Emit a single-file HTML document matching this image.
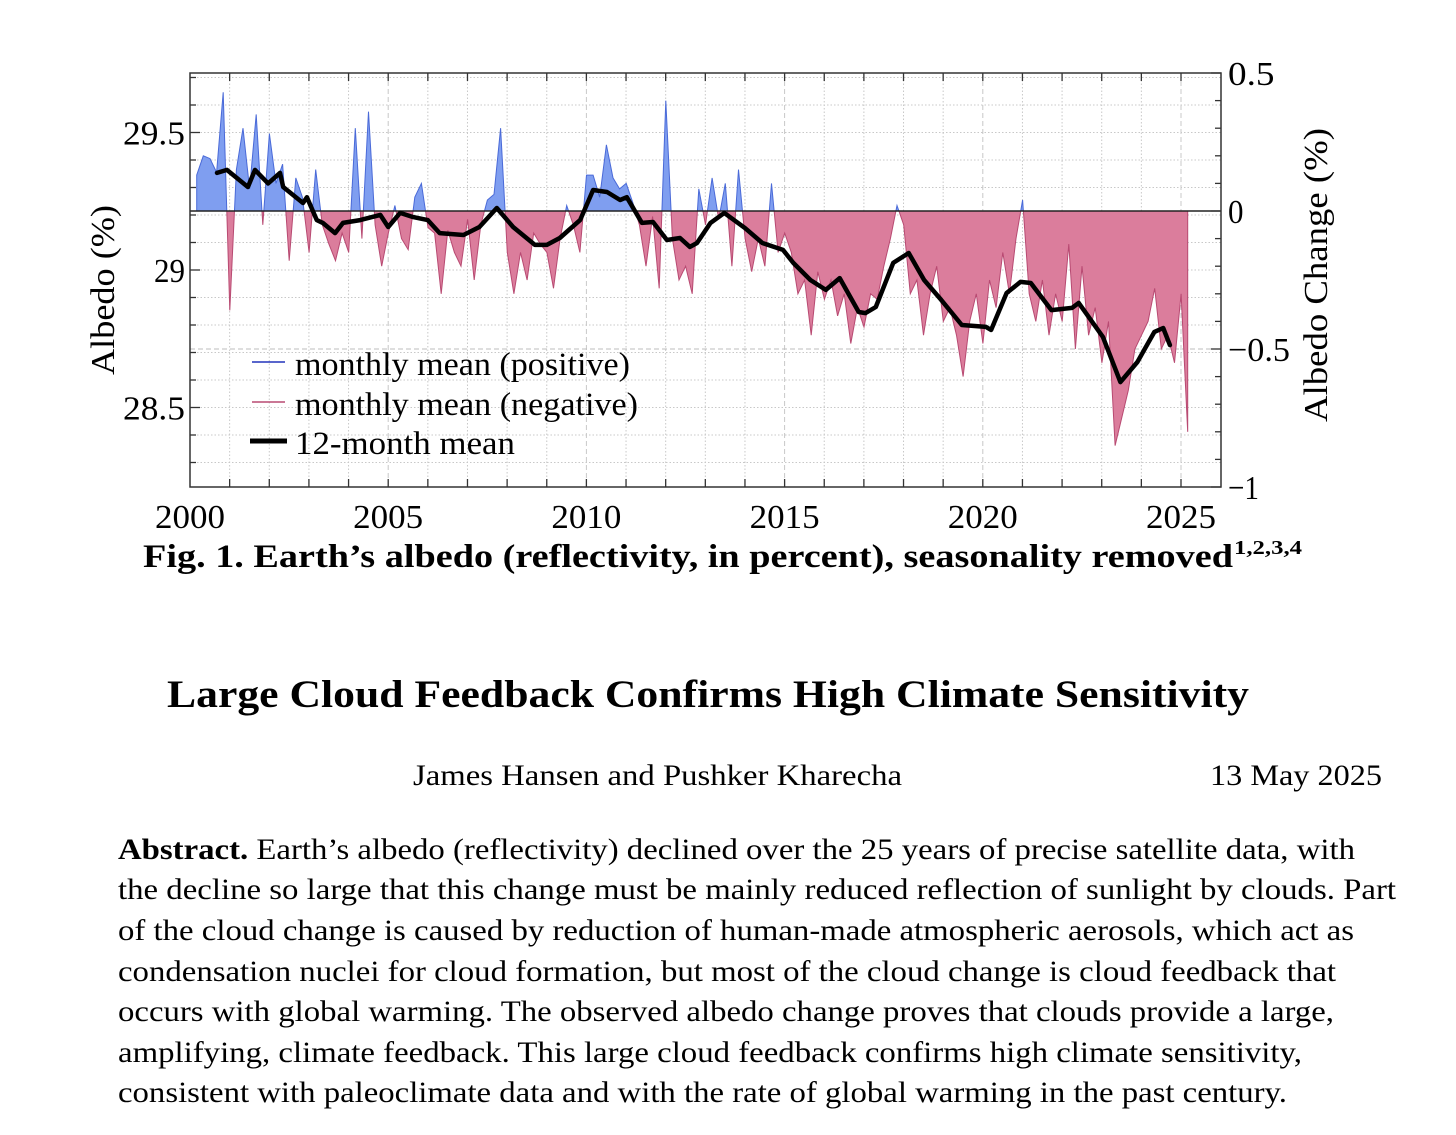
<!DOCTYPE html>
<html><head><meta charset="utf-8">
<style>
html,body{margin:0;padding:0;background:#fff;}
svg, svg text{font-family:"Liberation Serif","Times New Roman",serif;}
</style></head>
<body>
<svg id="root" width="1456" height="1130" viewBox="0 0 1456 1130" font-family="Liberation Serif, serif" xmlns="http://www.w3.org/2000/svg">
  <defs>
    <clipPath id="clipPos"><rect x="190" y="73" width="1031" height="138"/></clipPath>
    <clipPath id="clipNeg"><rect x="190" y="211" width="1031" height="276"/></clipPath>
  </defs>
  <g id="grid"></g>
  <g id="fills"></g>
  <g id="meanG"></g>
  <g id="axes"></g>

  <g font-size="33">
    <g>
      <line x1="252" y1="362" x2="285" y2="362" stroke="#2233bb" stroke-width="1.5"/>
      <text x="295" y="375" textLength="335" lengthAdjust="spacingAndGlyphs">monthly mean (positive)</text>
    </g>
    <g>
      <line x1="252" y1="402" x2="285" y2="402" stroke="#b84a72" stroke-width="1.5"/>
      <text x="295" y="415" textLength="343" lengthAdjust="spacingAndGlyphs">monthly mean (negative)</text>
    </g>
    <g>
      <line x1="250" y1="441" x2="287" y2="441" stroke="#000" stroke-width="5"/>
      <text x="295" y="454" textLength="220" lengthAdjust="spacingAndGlyphs">12-month mean</text>
    </g>
  </g>

  <text font-size="34" text-anchor="middle" textLength="170" lengthAdjust="spacingAndGlyphs" transform="translate(114,290) rotate(-90)">Albedo (%)</text>
  <text font-size="34" text-anchor="middle" textLength="294" lengthAdjust="spacingAndGlyphs" transform="translate(1327,275) rotate(-90)">Albedo Change (%)</text>

  <text x="143" y="567" font-size="33" font-weight="bold" textLength="1090" lengthAdjust="spacingAndGlyphs">Fig. 1. Earth’s albedo (reflectivity, in percent), seasonality removed</text>
  <text x="1234" y="554" font-size="20" font-weight="bold" textLength="68" lengthAdjust="spacingAndGlyphs">1,2,3,4</text>

  <text x="167" y="707" font-size="39" font-weight="bold" textLength="1082" lengthAdjust="spacingAndGlyphs">Large Cloud Feedback Confirms High Climate Sensitivity</text>
  <text x="413" y="785" font-size="30" textLength="489" lengthAdjust="spacingAndGlyphs">James Hansen and Pushker Kharecha</text>
  <text x="1210" y="785" font-size="30" textLength="172" lengthAdjust="spacingAndGlyphs">13 May 2025</text>

  <g font-size="30">
    <text x="118" y="859" textLength="1237" lengthAdjust="spacingAndGlyphs"><tspan font-weight="bold">Abstract.</tspan> Earth’s albedo (reflectivity) declined over the 25 years of precise satellite data, with</text>
    <text x="118" y="899" textLength="1278" lengthAdjust="spacingAndGlyphs">the decline so large that this change must be mainly reduced reflection of sunlight by clouds. Part</text>
    <text x="118" y="940" textLength="1236" lengthAdjust="spacingAndGlyphs">of the cloud change is caused by reduction of human-made atmospheric aerosols, which act as</text>
    <text x="118" y="981" textLength="1218" lengthAdjust="spacingAndGlyphs">condensation nuclei for cloud formation, but most of the cloud change is cloud feedback that</text>
    <text x="118" y="1021" textLength="1216" lengthAdjust="spacingAndGlyphs">occurs with global warming. The observed albedo change proves that clouds provide a large,</text>
    <text x="118" y="1062" textLength="1184" lengthAdjust="spacingAndGlyphs">amplifying, climate feedback. This large cloud feedback confirms high climate sensitivity,</text>
    <text x="118" y="1102" textLength="1169" lengthAdjust="spacingAndGlyphs">consistent with paleoclimate data and with the rate of global warming in the past century.</text>
  </g>
</svg>
<script>
// ---- data ----
const monthlyStart = 2000.17;
const monthlyStepYears = 1/6;
const monthlyChange = [
 0.13,0.2,0.19,0.14,0.43,-0.36,0.15,0.3,0.08,0.35,-0.05,0.28,
 0.1,0.17,-0.18,0.12,0.05,-0.15,0.15,-0.05,-0.12,-0.18,-0.08,-0.15,
 0.3,-0.1,0.36,-0.05,-0.2,-0.08,0.02,-0.1,-0.14,0.05,0.1,-0.06,
 -0.08,-0.3,-0.07,-0.15,-0.2,-0.03,-0.25,-0.05,0.04,0.06,0.3,-0.15,
 -0.3,-0.15,-0.25,-0.08,-0.12,-0.15,-0.28,-0.1,0.02,-0.05,-0.15,0.13,
 0.13,0.05,0.24,0.12,0.08,0.1,0.03,-0.05,-0.2,-0.02,-0.28,0.4,
 -0.1,-0.25,-0.2,-0.3,0.08,-0.05,0.12,-0.03,0.1,-0.2,0.15,-0.1,
 -0.22,-0.1,-0.2,0.1,-0.15,-0.08,-0.15,-0.3,-0.25,-0.45,-0.22,-0.32,
 -0.25,-0.38,-0.3,-0.48,-0.35,-0.42,-0.3,-0.32,-0.2,-0.1,0.02,-0.05,
 -0.3,-0.25,-0.45,-0.3,-0.2,-0.4,-0.35,-0.45,-0.6,-0.4,-0.3,-0.48,
 -0.25,-0.35,-0.15,-0.3,-0.1,0.04,-0.3,-0.4,-0.25,-0.45,-0.3,-0.4,
 -0.12,-0.5,-0.2,-0.45,-0.35,-0.55,-0.4,-0.85,-0.75,-0.65,-0.5,-0.45,
 -0.4,-0.28,-0.5,-0.45,-0.55,-0.3,-0.8
];
const meanYears = [2000.68,2000.93,2001.46,2001.64,2001.97,2002.27,2002.35,2002.85,2002.95,2003.2,2003.35,2003.66,2003.86,2004.29,2004.8,2005.0,2005.3,2005.63,2006.0,2006.3,2006.9,2007.3,2007.74,2008.15,2008.7,2009.0,2009.33,2009.84,2010.17,2010.52,2010.85,2011.02,2011.4,2011.68,2012.03,2012.36,2012.61,2012.79,2013.13,2013.48,2014.0,2014.44,2014.96,2015.22,2015.65,2016.04,2016.39,2016.87,2017.04,2017.3,2017.74,2018.13,2018.52,2018.95,2019.47,2020.08,2020.21,2020.6,2020.95,2021.21,2021.73,2022.25,2022.42,2023.03,2023.47,2023.9,2024.33,2024.55,2024.72];
const meanChange = [0.138,0.149,0.087,0.149,0.10,0.138,0.087,0.029,0.05,-0.033,-0.043,-0.08,-0.043,-0.033,-0.014,-0.058,-0.007,-0.022,-0.033,-0.08,-0.087,-0.058,0.011,-0.058,-0.123,-0.123,-0.098,-0.033,0.076,0.069,0.040,0.05,-0.043,-0.04,-0.105,-0.098,-0.13,-0.116,-0.043,-0.007,-0.062,-0.116,-0.141,-0.188,-0.25,-0.286,-0.243,-0.366,-0.37,-0.348,-0.188,-0.152,-0.25,-0.322,-0.413,-0.42,-0.431,-0.297,-0.257,-0.261,-0.359,-0.351,-0.333,-0.456,-0.62,-0.547,-0.438,-0.424,-0.486];
const xTickLabels = ["2000","2005","2010","2015","2020","2025"];
const leftTickLabels = ["29.5","29","28.5"];
const rightTickLabels = ["0.5","0","\u22120.5","\u22121"];

// ---- scales ----
const X0=190, X1=1221, Y0=73, Y1=487;
const yearPx = 39.64;
function xS(yr){ return X0 + (yr-2000)*yearPx; }
function yC(c){ return 211 - c*276; }
function yA(a){ return 270 - (a-29)*275; }
const NS="http://www.w3.org/2000/svg";
function mk(tag, attrs, parent){ const e=document.createElementNS(NS,tag); for(const k in attrs) e.setAttribute(k,attrs[k]); parent.appendChild(e); return e; }

const grid=document.getElementById('grid');
const axes=document.getElementById('axes');
for(let y=2001;y<=2025;y++){
  const l=mk('line',{x1:xS(y),x2:xS(y),y1:Y0,y2:Y1,stroke:'#c8c8c8','stroke-width':1,'stroke-dasharray':y%5===0?'5,3':'1.5,2'},grid);
  
  
}
for(let k=0;k<=15;k++){
  const a=28.2+k*0.1; const y=yA(a);
  if(y<=Y0+1||y>=Y1-1) continue;
  const l=mk('line',{x1:X0,x2:X1,y1:y,y2:y,stroke:'#c8c8c8','stroke-width':1,'stroke-dasharray':'1.5,2'},grid);
  
  
}
const dl=mk('line',{x1:X0,x2:X1,y1:yC(-0.5),y2:yC(-0.5),stroke:'#bdbdbd','stroke-width':1,'stroke-dasharray':'5,3'},grid);



const fills=document.getElementById('fills');
let pts=[];
monthlyChange.forEach((v,i)=>{ pts.push(xS(monthlyStart+i*monthlyStepYears).toFixed(1)+','+yC(v).toFixed(1)); });
const xa=xS(monthlyStart), xb=xS(monthlyStart+(monthlyChange.length-1)*monthlyStepYears);
const poly = xa.toFixed(1)+','+yC(0)+' '+pts.join(' ')+' '+xb.toFixed(1)+','+yC(0);
const pos=mk('polygon',{points:poly,fill:'#7f9ef0',stroke:'#4a6ad8','stroke-width':1,'clip-path':'url(#clipPos)'},fills);


const neg=mk('polygon',{points:poly,fill:'#db7d9c',stroke:'#b84a72','stroke-width':1,'clip-path':'url(#clipNeg)'},fills);


const zl=mk('line',{x1:X0,x2:X1,y1:yC(0),y2:yC(0),stroke:'#222','stroke-width':1.5},fills);



const meanG=document.getElementById('meanG');
const mp=meanYears.map((yr,i)=>xS(yr).toFixed(1)+','+yC(meanChange[i]).toFixed(1)).join(' ');
const ml=mk('polyline',{points:mp,fill:'none',stroke:'#000','stroke-width':4.5,'stroke-linejoin':'round','stroke-linecap':'round'},meanG);



const fr=mk('rect',{x:X0,y:Y0,width:X1-X0,height:Y1-Y0,fill:'none',stroke:'#333','stroke-width':1.5},axes);


for(let y=2001;y<=2025;y++){
  mk('line',{x1:xS(y),x2:xS(y),y1:Y1,y2:Y1-8,stroke:'#333','stroke-width':1.3},axes);
  mk('line',{x1:xS(y),x2:xS(y),y1:Y0,y2:Y0+8,stroke:'#333','stroke-width':1.3},axes);
}
xTickLabels.forEach((s,i)=>{
  const t=mk('text',{x:xS(2000+i*5)-35,y:528,'font-size':34,textLength:70,lengthAdjust:'spacingAndGlyphs'},axes);
  t.textContent=s;
  
  
});
for(let k=0;k<=15;k++){
  const a=28.2+k*0.1; const y=yA(a);
  if(y<Y0||y>Y1) continue;
  const major=Math.abs(a*2-Math.round(a*2))<1e-6;
  mk('line',{x1:X0,x2:X0+(major?10:6),y1:y,y2:y,stroke:'#333','stroke-width':1.3},axes);
}
leftTickLabels.forEach((s,i)=>{
  const w = s.length*15.5;
  const t=mk('text',{x:185-w,y:yA(29.5-i*0.5)+12,'font-size':34,textLength:w,lengthAdjust:'spacingAndGlyphs'},axes);
  t.textContent=s;
  
  
});
for(let k=0;k<=15;k++){
  const c=0.5-k*0.1; const y=yC(c);
  const major=k%5===0;
  mk('line',{x1:X1,x2:X1-(major?10:6),y1:y,y2:y,stroke:'#333','stroke-width':1.3},axes);
}
rightTickLabels.forEach((s,i)=>{
  const w = s.length*15.5;
  const t=mk('text',{x:1228,y:yC(0.5-i*0.5)+12,'font-size':34,textLength:w,lengthAdjust:'spacingAndGlyphs'},axes);
  t.textContent=s;
  
  
});
</script>
</body></html>
